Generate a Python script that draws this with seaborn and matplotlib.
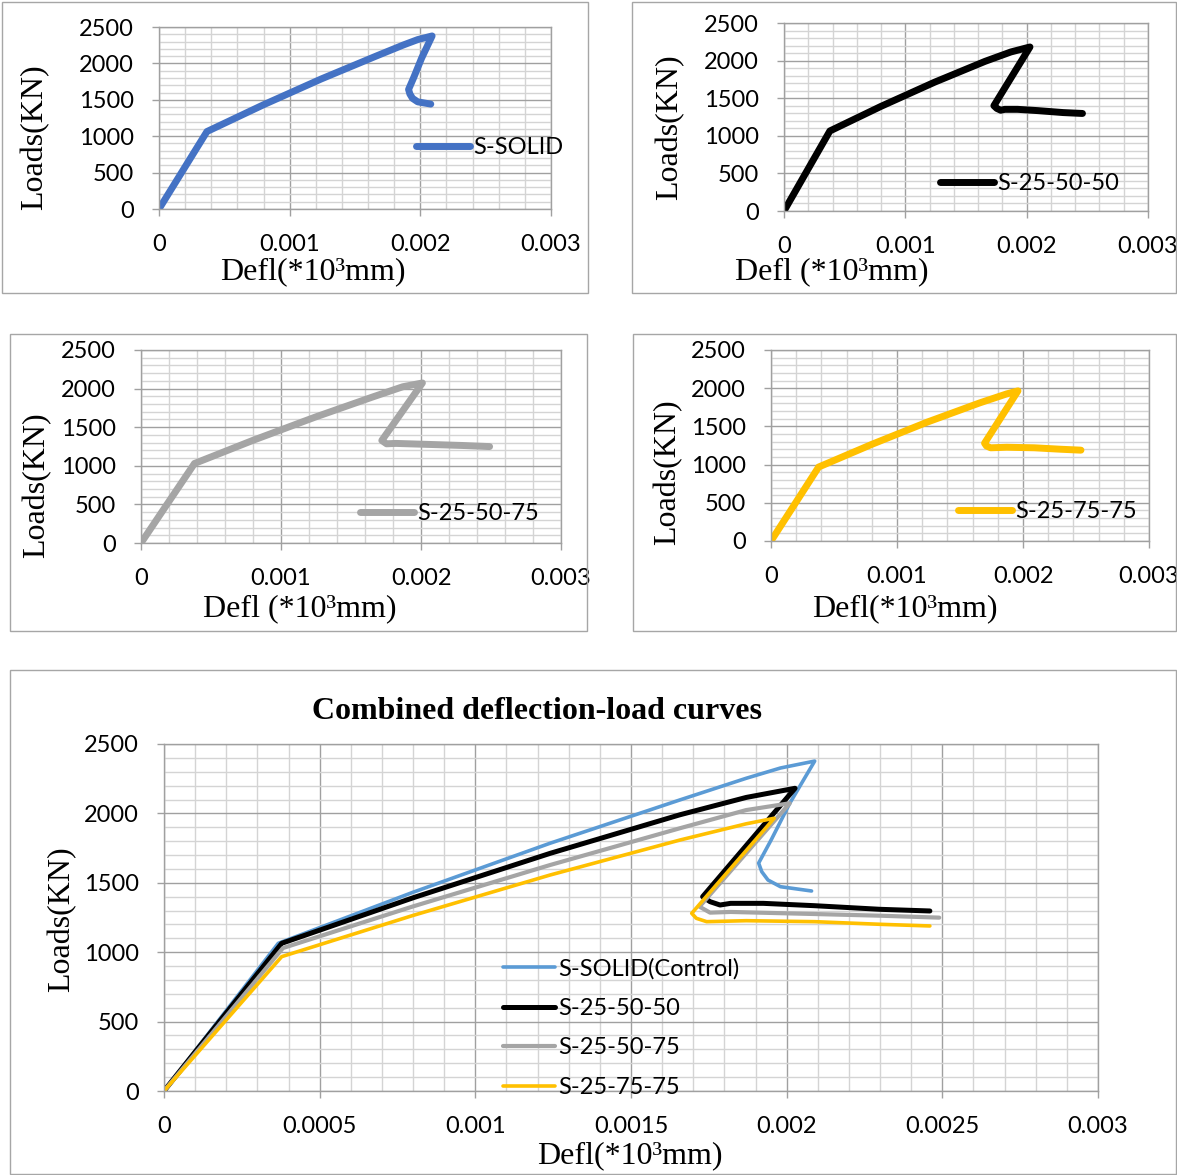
import numpy as np
import pandas as pd
import matplotlib
matplotlib.use("Agg")
import matplotlib.pyplot as plt
from matplotlib.ticker import MultipleLocator, FuncFormatter
from matplotlib.patches import Rectangle
import seaborn as sns

# ---- deflection-load data (deflection in *10^3 mm, load in kN) ----
solid_defl = [0, 0.000367, 0.0008, 0.00124, 0.001657, 0.00187, 0.00198, 0.00209,
              0.00201, 0.00195, 0.00191, 0.00192, 0.00194, 0.00198, 0.00208]
solid_load = [0, 1064, 1432, 1785, 2097, 2253, 2327, 2377,
              2073, 1808, 1642, 1580, 1520, 1472, 1441]

s505_defl = [0, 0.000378, 0.0008, 0.00124, 0.001657, 0.00187, 0.002027,
             0.00173, 0.001754, 0.001786, 0.00182, 0.001925, 0.00209, 0.0023, 0.00246]
s505_load = [0, 1064, 1392, 1712, 1990, 2115, 2181,
             1400, 1364, 1340, 1352, 1352, 1335, 1309, 1297]

s5075_defl = [0, 0.000382, 0.0008, 0.00124, 0.001657, 0.00187, 0.00201,
              0.00172, 0.001754, 0.00182, 0.00209, 0.0023, 0.00249]
s5075_load = [0, 1030, 1330, 1628, 1893, 2024, 2073,
              1328, 1285, 1290, 1275, 1263, 1249]

s7575_defl = [0, 0.000378, 0.0008, 0.00124, 0.001657, 0.00187, 0.00196,
              0.001695, 0.00171, 0.001743, 0.00187, 0.00209, 0.0023, 0.00246]
s7575_load = [0, 968, 1265, 1556, 1808, 1925, 1965,
              1280, 1244, 1220, 1227, 1220, 1201, 1189]

small_xticks = [0, 0.001, 0.002, 0.003]
big_xticks = [0, 0.0005, 0.001, 0.0015, 0.002, 0.0025, 0.003]
yticks = [0, 500, 1000, 1500, 2000, 2500]

W, H = 1177, 1175
SANS = ["Lato", "DejaVu Sans"]
SERIF = ["Liberation Serif", "DejaVu Serif"]
TICK_SIZE = 17

sns.set_theme(style="white")
plt.rcParams["font.family"] = SANS

fig = plt.figure(figsize=(W / 100, H / 100), dpi=100)
fig.patch.set_facecolor("white")


def frac_rect(x0, y0, x1, y1):
    return [x0 / W, 1 - y1 / H, (x1 - x0) / W, (y1 - y0) / H]


def frame(x0, y0, x1, y1):
    fig.patches.append(Rectangle((x0 / W, 1 - y1 / H), (x1 - x0) / W, (y1 - y0) / H,
                                 transform=fig.transFigure, fill=False,
                                 edgecolor="#a6a6a6", linewidth=1.0, zorder=0))


def style_axes(ax, xticks, xminor):
    ax.set_xlim(0, 0.003)
    ax.set_ylim(0, 2500)
    ax.set_xticks(xticks)
    ax.set_yticks(yticks)
    ax.xaxis.set_minor_locator(MultipleLocator(xminor))
    ax.yaxis.set_minor_locator(MultipleLocator(100))
    ax.xaxis.set_major_formatter(FuncFormatter(lambda v, p: "0" if v == 0 else f"{v:g}"))
    ax.grid(which="minor", color="#d4d4d4", linewidth=1.0)
    ax.grid(which="major", color="#a0a0a0", linewidth=1.0)
    ax.set_axisbelow(True)
    for s in ax.spines.values():
        s.set_color("#a0a0a0")
        s.set_linewidth(1.0)
    ax.tick_params(which="major", direction="out", length=5, width=1,
                   color="#a0a0a0", labelsize=TICK_SIZE, pad=13, labelcolor="black",
                   bottom=True, left=True)
    ax.tick_params(which="minor", length=0)
    for lab in ax.get_xticklabels() + ax.get_yticklabels():
        lab.set_family(SANS)


def labels(ax, xlabel, xl_px, yl_px, axrect_px):
    x0, y0, x1, y1 = axrect_px
    ax.set_xlabel(xlabel, family=SERIF, fontsize=23, color="black", va="center")
    ax.xaxis.set_label_coords((xl_px[0] - x0) / (x1 - x0), (y1 - xl_px[1]) / (y1 - y0))
    ax.set_ylabel("Loads(KN)", family=SERIF, fontsize=23, color="black", va="center")
    ax.yaxis.set_label_coords((yl_px[0] - x0) / (x1 - x0), (y1 - yl_px[1]) / (y1 - y0))


def series_frame(defl, load):
    return pd.DataFrame({"defl": defl, "load": load})


small_panels = [
    dict(box=(2, 2, 588, 293), ax=(159, 27, 551, 209), defl=solid_defl, load=solid_load,
         color="#4472C4", name="S-SOLID", xlabel="Defl(*10³mm)",
         xl=(313, 272), yl=(35, 137), leg=(416, 148)),
    dict(box=(632, 2, 1176, 293), ax=(784, 23, 1148, 211), defl=s505_defl, load=s505_load,
         color="#000000", name="S-25-50-50", xlabel="Defl (*10³mm)",
         xl=(832, 272), yl=(670, 127), leg=(940, 184)),
    dict(box=(10, 334, 587, 631), ax=(141, 350, 561, 543), defl=s5075_defl, load=s5075_load,
         color="#A5A5A5", name="S-25-50-75", xlabel="Defl (*10³mm)",
         xl=(300, 609), yl=(37, 485), leg=(360, 514)),
    dict(box=(633, 334, 1176, 631), ax=(771, 350, 1149, 541), defl=s7575_defl, load=s7575_load,
         color="#FFC000", name="S-25-75-75", xlabel="Defl(*10³mm)",
         xl=(905, 609), yl=(668, 472), leg=(958, 512)),
]

for p in small_panels:
    frame(*p["box"])
    ax = fig.add_axes(frac_rect(*p["ax"]))
    df = series_frame(p["defl"], p["load"])
    sns.lineplot(data=df, x="defl", y="load", sort=False, estimator=None, ax=ax,
                 color=p["color"], linewidth=5, label=p["name"],
                 solid_capstyle="round", solid_joinstyle="round")
    style_axes(ax, small_xticks, 0.0002)
    labels(ax, p["xlabel"], p["xl"], p["yl"], p["ax"])
    x0, y0, x1, y1 = p["ax"]
    lx = (p["leg"][0] - x0) / (x1 - x0)
    ly = (y1 - p["leg"][1]) / (y1 - y0)
    leg = ax.legend(loc="center left", bbox_to_anchor=(lx, ly), frameon=False,
                    borderpad=0, borderaxespad=0, handlelength=2.3,
                    handletextpad=0.12, prop={"family": SANS, "size": TICK_SIZE})
    for t in leg.get_texts():
        t.set_color("black")

# ---- combined chart ----
frame(10, 670, 1176, 1174)
big_px = (164, 744, 1098, 1091)
axc = fig.add_axes(frac_rect(*big_px))
combined = [
    (solid_defl, solid_load, "#5B9BD5", 2.6, "S-SOLID(Control)"),
    (s505_defl, s505_load, "#000000", 3.6, "S-25-50-50"),
    (s5075_defl, s5075_load, "#A5A5A5", 3.0, "S-25-50-75"),
    (s7575_defl, s7575_load, "#FFC000", 2.6, "S-25-75-75"),
]
for defl, load, col, lw, name in combined:
    sns.lineplot(data=series_frame(defl, load), x="defl", y="load", sort=False,
                 estimator=None, ax=axc, color=col, linewidth=lw, label=name,
                 solid_capstyle="round", solid_joinstyle="round")
style_axes(axc, big_xticks, 0.0001)
labels(axc, "Defl(*10³mm)", (630, 1156), (62, 919), big_px)
axc.set_title("Combined deflection-load curves", family=SERIF, fontsize=23,
              fontweight="bold", color="black", pad=0,
              x=(537 - 164) / (1098 - 164), y=(1091 - 711) / (1091 - 744), va="center")
legc = axc.legend(loc="center left",
                  bbox_to_anchor=((503 - 164) / 934, (1091 - 1028) / 347),
                  frameon=False, borderpad=0, borderaxespad=0, handlelength=2.2,
                  handletextpad=0.15, labelspacing=0.78,
                  prop={"family": SANS, "size": TICK_SIZE})
for t in legc.get_texts():
    t.set_color("black")

fig.savefig("out.png", dpi=100, facecolor="white")
